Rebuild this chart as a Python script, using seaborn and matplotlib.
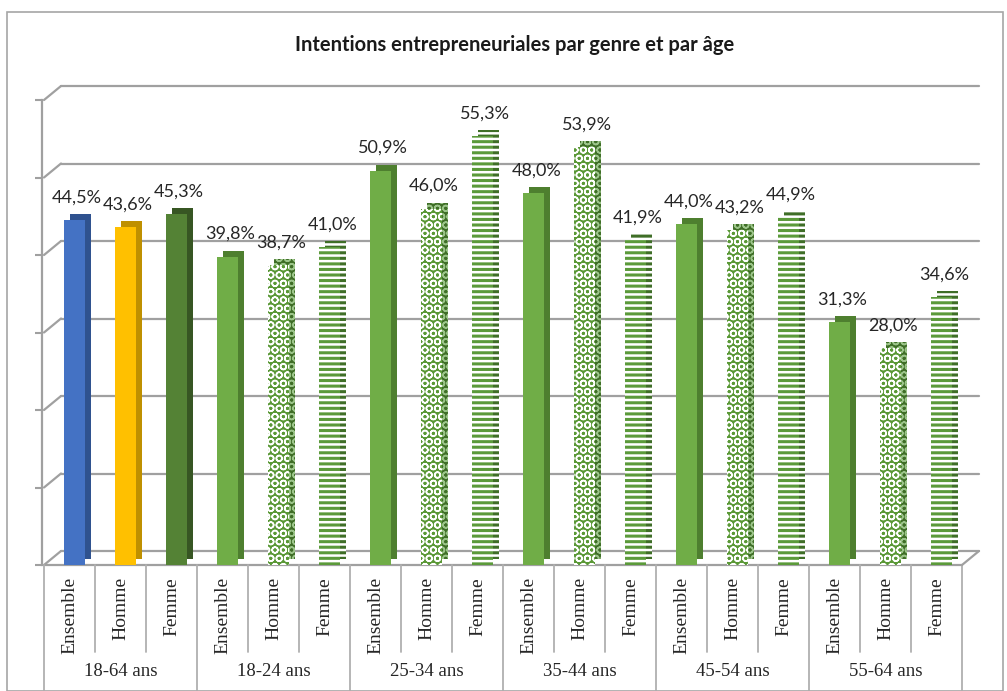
import numpy as np
import pandas as pd
import matplotlib
matplotlib.use("Agg")
import matplotlib.pyplot as plt
import matplotlib.transforms as mtransforms
from matplotlib.patches import Rectangle
import seaborn as sns

sns.set_theme(style="white")
plt.rcParams['font.family'] = ['Lato', 'DejaVu Sans']
plt.rcParams['hatch.linewidth'] = 2.2

# data
age_groups = ['18-64 ans', '18-24 ans', '25-34 ans', '35-44 ans', '45-54 ans', '55-64 ans']
genders = ['Ensemble', 'Homme', 'Femme']
values = [44.5, 43.6, 45.3,
          39.8, 38.7, 41.0,
          50.9, 46.0, 55.3,
          48.0, 53.9, 41.9,
          44.0, 43.2, 44.9,
          31.3, 28.0, 34.6]
value_labels = ['44,5%', '43,6%', '45,3%', '39,8%', '38,7%', '41,0%',
                '50,9%', '46,0%', '55,3%', '48,0%', '53,9%', '41,9%',
                '44,0%', '43,2%', '44,9%', '31,3%', '28,0%', '34,6%']

df = pd.DataFrame({
    'age': np.repeat(age_groups, 3),
    'genre': genders * 6,
    'valeur': values,
})
df['pos'] = np.arange(len(df)) + 0.1

# bar styles: (face, side, hatch, hatch colour, hatch width)
green = '#70AD47'
green_dark = '#4E7F2F'
styles = []
for i, g in enumerate(df['genre']):
    if i == 0:
        styles.append(('#4472C4', '#2F528F', None, None, None))
    elif i == 1:
        styles.append(('#FFC000', '#BF9000', None, None, None))
    elif i == 2:
        styles.append(('#548235', '#375623', None, None, None))
    elif g == 'Ensemble':
        styles.append((green, green_dark, None, None, None))
    elif g == 'Homme':
        styles.append(('#5A9836', '#3F6E27', 'OO', 'white', 1.1))
    else:
        styles.append(('white', 'white', '---', '#5B9A3A', 2.2))

fig = plt.figure(figsize=(10.07, 6.91), dpi=100)
ax = fig.add_axes([44 / 1007, 1 - 565 / 691, (962 - 44) / 1007, 465 / 691])

# outer frame
fig.patches.append(Rectangle((7 / 1007, 0.0), 996 / 1007, 1 - 12 / 691,
                             transform=fig.transFigure, fill=False,
                             edgecolor='#A6A6A6', linewidth=1.2))

grid_col = '#A0A0A0'
back = ax.transData + mtransforms.ScaledTranslation(0.17, 0.14, fig.dpi_scale_trans)
for v in range(0, 70, 10):
    ax.plot([-0.5, 17.5], [v, v], color=grid_col, lw=1.6, transform=back,
            zorder=0, clip_on=False)
    ax.annotate('', xy=(-0.5, v), xytext=(17, 14), textcoords='offset pixels',
                arrowprops=dict(arrowstyle='-', color=grid_col, lw=1.6,
                                shrinkA=0, shrinkB=0), annotation_clip=False,
                zorder=0)
# floor front edge and right corner
ax.plot([-0.5, 17.5], [0, 0], color=grid_col, lw=1.6, zorder=1, clip_on=False)
ax.annotate('', xy=(17.5, 0), xytext=(17, 14), textcoords='offset pixels',
            arrowprops=dict(arrowstyle='-', color=grid_col, lw=1.6,
                            shrinkA=0, shrinkB=0), annotation_clip=False)

# side / depth of bars
bw = 0.41
dx = 6 / 51.0
dy = 6 / 7.75
for i, row in df.iterrows():
    face, side, hatch, hcol, hlw = styles[i]
    sb = ax.bar(row['pos'] + dx, row['valeur'], bottom=dy, width=bw,
                color=side,
                edgecolor=side if hatch is None else ('#3F6E27' if hcol != 'white' else '#9CC58A'),
                hatch=hatch, linewidth=0, zorder=2)
    if hatch is not None and hasattr(sb[0], 'set_hatch_linewidth'):
        sb[0].set_hatch_linewidth(hlw)

sns.barplot(data=df, x='pos', y='valeur', native_scale=True, width=bw,
            color=green, ax=ax, zorder=3, linewidth=0)
for p in ax.patches:
    if p.zorder != 3:
        continue
    i = int(round(p.get_x() + p.get_width() / 2 - 0.1))
    face, side, hatch, hcol, hlw = styles[i]
    p.set_facecolor(face)
    if hatch is not None:
        p.set_hatch(hatch)
        p.set_edgecolor(hcol)
        p.set_linewidth(0)
        if hasattr(p, 'set_hatch_linewidth'):
            p.set_hatch_linewidth(hlw)

for i, row in df.iterrows():
    ax.text(row['pos'] + 0.05, row['valeur'] + 1.9, value_labels[i],
            ha='center', va='bottom', fontsize=13, color='#262626')

ax.set_xlim(-0.5, 17.5)
ax.set_ylim(0, 60)
ax.set_xticks([])
ax.set_yticks(range(0, 70, 10))
ax.set_yticklabels([])
ax.tick_params(axis='y', left=True, length=5, width=1.5, color=grid_col)
ax.set_xlabel('')
ax.set_ylabel('')
for s in ['top', 'right', 'bottom']:
    ax.spines[s].set_visible(False)
ax.spines['left'].set_color(grid_col)
ax.spines['left'].set_linewidth(1.6)
ax.spines['left'].set_position(('data', -0.54))

# category table under the axis
tr = mtransforms.blended_transform_factory(ax.transData, ax.transAxes)
h_px = 465
for k in range(19):
    low = -125 / h_px if k % 3 == 0 else -87 / h_px
    ax.plot([k - 0.5, k - 0.5], [0, low], color='#B0B0B0', lw=1.3,
            transform=tr, clip_on=False)
for i, row in df.iterrows():
    ax.text(i, -12 / h_px, row['genre'], rotation=90, ha='center', va='top',
            transform=tr, fontsize=14, family='Liberation Serif', color='#262626')
for j, a in enumerate(age_groups):
    ax.text(3 * j + 1, -107 / h_px, a, ha='center', va='center', transform=tr,
            fontsize=13.5, family='Liberation Serif', color='#262626')

fig.text(515 / 1007, 1 - 45 / 691, 'Intentions entrepreneuriales par genre et par âge',
         ha='center', va='center', fontsize=14.5, fontweight='bold', color='#1a1a1a')

fig.savefig('out.png', dpi=100)
